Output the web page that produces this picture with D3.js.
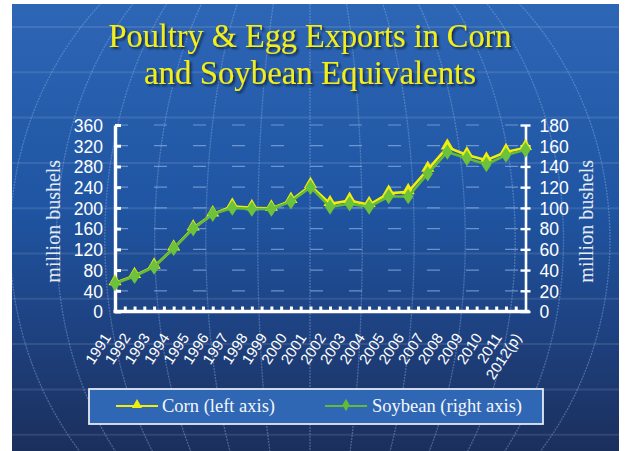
<!DOCTYPE html>
<html>
<head>
<meta charset="utf-8">
<script src="https://cdn.jsdelivr.net/npm/d3@7"></script>
<style>
  html, body { margin: 0; padding: 0; background: #ffffff; }
  svg { display: block; }
</style>
</head>
<body>
<svg id="chart" width="626" height="451"></svg>
<script>
// Poultry & egg exports expressed in corn and soybean equivalents
const years = ["1991","1992","1993","1994","1995","1996","1997","1998","1999","2000",
               "2001","2002","2003","2004","2005","2006","2007","2008","2009","2010",
               "2011","2012(p)"];
// million bushels of corn (left axis)
const corn = [55, 69, 87, 122, 161, 188, 203, 200, 199, 214, 243, 208, 214, 206, 228, 231, 274, 317, 302, 292, 308, 316];
// million bushels of soybeans (right axis)
const soybean = [27, 34, 43, 61, 80, 94, 100, 99, 99, 106, 120, 101, 104, 101, 111, 111, 133, 154, 148, 142, 151, 156];

const leftTicks = [0, 40, 80, 120, 160, 200, 240, 280, 320, 360];
const rightTicks = [0, 20, 40, 60, 80, 100, 120, 140, 160, 180];
const titleLines = ["Poultry & Egg Exports in Corn", "and Soybean Equivalents"];
const seriesNames = ["Corn (left axis)", "Soybean (right axis)"];

const svg = d3.select("#chart");
const defs = svg.append("defs");

// ---- backdrop panel ----
const bg = defs.append("linearGradient").attr("id", "bgGrad")
  .attr("x1", 0).attr("y1", 0).attr("x2", 0).attr("y2", 1);
bg.append("stop").attr("offset", 0).attr("stop-color", "#2e66b6");
bg.append("stop").attr("offset", 0.45).attr("stop-color", "#1f55a2");
bg.append("stop").attr("offset", 0.72).attr("stop-color", "#1e4282");
bg.append("stop").attr("offset", 1).attr("stop-color", "#1b2f5c");

const panel = { x: 12, y: 4, w: 607, h: 447 };
defs.append("clipPath").attr("id", "panelClip").append("rect")
  .attr("x", panel.x).attr("y", panel.y).attr("width", panel.w).attr("height", panel.h);

svg.append("rect").attr("x", panel.x).attr("y", panel.y)
  .attr("width", panel.w).attr("height", panel.h).attr("fill", "url(#bgGrad)");

// wireframe globe behind the chart
const globe = svg.append("g").attr("clip-path", "url(#panelClip)");
const gcx = 310, gcy = 240, gW = 600, gH = 330;
const parallelsY = d3.range(0, 10).map(k => 27 + k * 45.3);
globe.selectAll("line.parallel").data(parallelsY).join("line")
  .attr("class", "parallel")
  .attr("x1", panel.x).attr("x2", panel.x + panel.w)
  .attr("y1", d => d).attr("y2", d => d)
  .attr("stroke", "#ffffff").attr("stroke-opacity", 0.1).attr("stroke-width", 2);

const meridianLine = d3.line()
  .x(p => gcx + gW * Math.sin(p[0]) * Math.cos(p[1]))
  .y(p => gcy - gH * Math.sin(p[1]))
  .curve(d3.curveBasis);
const lons = d3.range(-30, 31, 5).map(d => d * Math.PI / 180);
const lats = d3.range(-90, 91, 2).map(d => d * Math.PI / 180);
globe.selectAll("path.meridian").data(lons).join("path")
  .attr("class", "meridian")
  .attr("d", lon => meridianLine(lats.map(lat => [lon, lat])))
  .attr("fill", "none")
  .attr("stroke", "#8fb4e6").attr("stroke-opacity", 0.4)
  .attr("stroke-width", 1.3).attr("stroke-dasharray", "2 1");

// ---- title ----
const shadow = defs.append("filter").attr("id", "titleShadow")
  .attr("x", "-10%").attr("y", "-30%").attr("width", "120%").attr("height", "160%");
shadow.append("feDropShadow").attr("dx", 2).attr("dy", 2).attr("stdDeviation", 1.2)
  .attr("flood-color", "#0a1a3a").attr("flood-opacity", 0.85);

svg.append("g").attr("filter", "url(#titleShadow)")
  .selectAll("text").data(titleLines).join("text")
  .attr("x", 310).attr("y", (d, i) => 47 + i * 37)
  .attr("text-anchor", "middle")
  .attr("font-family", "'Liberation Serif', 'DejaVu Serif', serif")
  .attr("font-size", 33)
  .attr("textLength", (d, i) => i === 0 ? 403 : 332)
  .attr("lengthAdjust", "spacingAndGlyphs")
  .attr("fill", "#f3ee16")
  .text(d => d);

// ---- scales ----
const x = d3.scalePoint().domain(years).range([115, 525.5]);
const yL = d3.scaleLinear().domain([0, 360]).range([311.5, 125]);
const yR = d3.scaleLinear().domain([0, 180]).range([311.5, 125]);
const xIdx = d3.scaleLinear().domain([0, years.length - 1]).range(x.range());

// dashed guide lines at each value step
svg.append("g").selectAll("line").data(leftTicks.slice(1)).join("line")
  .attr("x1", x.range()[0]).attr("x2", x.range()[1])
  .attr("y1", d => yL(d)).attr("y2", d => yL(d))
  .attr("stroke", "#86aadf").attr("stroke-opacity", 0.75)
  .attr("stroke-width", 1.2).attr("stroke-dasharray", "13 26");

const tickFont = "'Liberation Sans', Arial, sans-serif";

// left axis
const gL = svg.append("g").attr("transform", `translate(${x.range()[0]},0)`)
  .call(d3.axisLeft(yL).tickValues(leftTicks).tickSize(-6).tickSizeOuter(0).tickPadding(12));
gL.select(".domain").attr("stroke", "#ffffff").attr("stroke-width", 3.4);
gL.selectAll(".tick line").attr("stroke", "#ffffff").attr("stroke-width", 3);
gL.selectAll(".tick text").attr("fill", "#ffffff")
  .attr("font-family", tickFont).attr("font-size", 17.5).attr("dy", "0.36em");

// right axis
const gR = svg.append("g").attr("transform", `translate(${x.range()[1]},0)`)
  .call(d3.axisRight(yR).tickValues(rightTicks).tickSize(5).tickSizeOuter(0).tickPadding(9));
gR.select(".domain").attr("stroke", "#ffffff").attr("stroke-width", 2.6);
gR.selectAll(".tick line").attr("x1", -5).attr("stroke", "#ffffff").attr("stroke-width", 2.4);
gR.selectAll(".tick text").attr("fill", "#ffffff")
  .attr("font-family", tickFont).attr("font-size", 17.5).attr("dy", "0.36em");

// bottom axis with half-step ticks
const gB = svg.append("g").attr("transform", `translate(0,${yL(0)})`)
  .call(d3.axisBottom(xIdx).tickValues(d3.range(0.5, years.length - 1, 0.5))
    .tickSize(-5).tickSizeOuter(0).tickFormat(""));
gB.select(".domain").attr("d", `M${x.range()[0] - 1.5},0H${x.range()[1] + 4}`)
  .attr("stroke", "#ffffff").attr("stroke-width", 3.6);
gB.selectAll(".tick line").attr("stroke", "#ffffff").attr("stroke-width", 3);

// year labels
const gX = svg.append("g").attr("transform", `translate(0,${yL(0)})`)
  .call(d3.axisBottom(x).tickSize(0).tickPadding(0));
gX.select(".domain").remove();
gX.selectAll(".tick text")
  .attr("fill", "#ffffff").attr("font-family", tickFont).attr("font-size", 15)
  .attr("text-anchor", "end").attr("dy", 0).attr("y", 0)
  .attr("transform", "translate(-4,26) rotate(-57)");

// axis titles
const axisTitleFont = "'Liberation Serif', 'DejaVu Serif', serif";
svg.append("text")
  .attr("transform", `translate(60,${(yL(0) + yL(360)) / 2 + 3}) rotate(-90)`)
  .attr("text-anchor", "middle").attr("font-family", axisTitleFont)
  .attr("font-size", 20).attr("fill", "#e6ecf5").text("million bushels");
svg.append("text")
  .attr("transform", `translate(593,${(yL(0) + yL(360)) / 2 + 3}) rotate(-90)`)
  .attr("text-anchor", "middle").attr("font-family", axisTitleFont)
  .attr("font-size", 20).attr("fill", "#e6ecf5").text("million bushels");

// ---- series ----
const cornColor = "#f2ee0c", soyColor = "#64bb36";
const cornLine = d3.line().x((d, i) => x(years[i])).y(d => yL(d));
const soyLine = d3.line().x((d, i) => x(years[i])).y(d => yR(d));
const tri = d3.symbol().type(d3.symbolTriangle).size(75);
const dia = d3.symbol().type(d3.symbolDiamond).size(70);

svg.append("path").datum(corn).attr("d", cornLine)
  .attr("fill", "none").attr("stroke", cornColor).attr("stroke-width", 2.6);
svg.append("g").selectAll("path").data(corn).join("path")
  .attr("transform", (d, i) => `translate(${x(years[i])},${yL(d) - 1.5})`)
  .attr("d", tri).attr("fill", cornColor);

svg.append("path").datum(soybean).attr("d", soyLine)
  .attr("fill", "none").attr("stroke", soyColor).attr("stroke-width", 2.6);
svg.append("g").selectAll("path").data(soybean).join("path")
  .attr("transform", (d, i) => `translate(${x(years[i])},${yR(d)}) scale(1.15,1)`)
  .attr("d", dia).attr("fill", "#6cc23a");

// ---- legend ----
const lg = svg.append("g");
lg.append("rect").attr("x", 89).attr("y", 389).attr("width", 454).attr("height", 35)
  .attr("fill", "#2f67b5").attr("stroke", "#e3e9f2").attr("stroke-width", 1.8);
const legendItems = [
  { name: seriesNames[0], color: cornColor, type: d3.symbolTriangle, x0: 116, tx: 162 },
  { name: seriesNames[1], color: soyColor, type: d3.symbolDiamond, x0: 325, tx: 372 }
];
legendItems.forEach(it => {
  lg.append("line").attr("x1", it.x0).attr("x2", it.x0 + 42)
    .attr("y1", 406).attr("y2", 406).attr("stroke", it.color).attr("stroke-width", 2.2);
  lg.append("path").attr("transform", `translate(${it.x0 + 21},405)`)
    .attr("d", d3.symbol().type(it.type).size(45))
    .attr("fill", it.color);
  lg.append("text").attr("x", it.tx).attr("y", 412)
    .attr("font-family", axisTitleFont).attr("font-size", 18.5)
    .attr("fill", "#f4f6fa").text(it.name);
});
</script>
</body>
</html>
